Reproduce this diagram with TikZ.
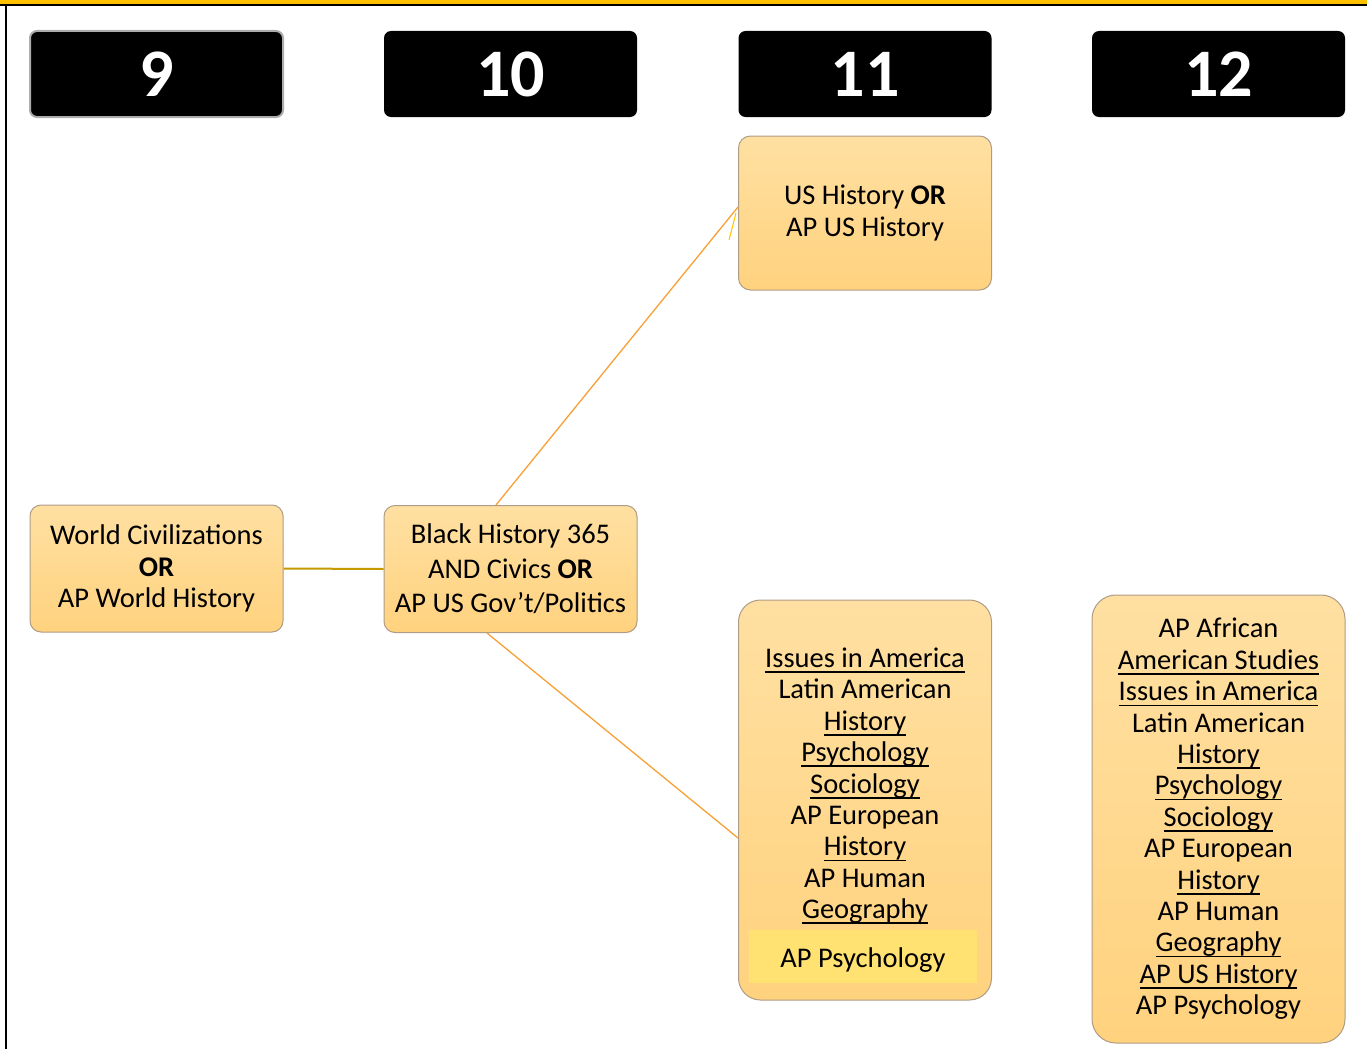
\documentclass[tikz,border=0pt]{standalone}
\usepackage{fontspec}
\setmainfont{Carlito}
\definecolor{BoxTop}{HTML}{FFE0A2}
\definecolor{BoxBot}{HTML}{FFD27E}
\definecolor{BoxLine}{HTML}{AE9C84}
\definecolor{LinkOrange}{HTML}{F7A035}
\definecolor{LinkGold}{HTML}{C49A00}
\definecolor{FrameYellow}{HTML}{FFC000}
\definecolor{HiYellow}{HTML}{FFE272}
\newcommand{\ulx}[1]{\setbox0\hbox{#1}\rlap{\rule[-5.5pt]{\wd0}{1.7pt}}\box0}
\begin{document}
\begin{tikzpicture}[x=1pt,y=-1pt,
  hdr/.style={fill=black, rounded corners=7pt, minimum width=253pt, minimum height=86pt, inner sep=0pt, text=white, font=\fontsize{68}{72}\selectfont\bfseries},
  crs/.style={draw=BoxLine, line width=1pt, top color=BoxTop, bottom color=BoxBot, minimum width=253pt, inner sep=0pt, align=center, font=\fontsize{28.5}{31.4}\selectfont},
  txt/.style={align=center, font=\fontsize{28.5}{31.4}\selectfont, inner sep=0pt},
  link/.style={draw=LinkOrange, line width=1.3pt},
  goldlink/.style={draw=LinkGold, line width=2pt}]
\useasboundingbox (0,0) rectangle (1367,1049);
% frame
\fill[FrameYellow] (0,0) rectangle (1367,3.6);
\draw[black, line width=2pt] (0,4.6) -- (1367,4.6);
\draw[black, line width=2pt] (6,4.6) -- (6,1049);
% headers
\node[hdr, draw=gray!65, line width=2pt] (h9) at (156.5,74) {9};
\node[hdr] (h10) at (510.5,74) {10};
\node[hdr] (h11) at (865,74) {11};
\node[hdr] (h12) at (1218.5,74) {12};
% course boxes
\node[crs, rounded corners=11pt, minimum height=127pt] (wc) at (156.5,568.5)
  {World Civilizations\\\textbf{OR}\\AP World History};
\node[crs, rounded corners=11pt, minimum height=127pt, font=\fontsize{28.5}{34.5}\selectfont] (bh) at (510.5,569)
  {Black History 365\\AND Civics \textbf{OR}\\AP US Gov’t/Politics};
\node[crs, rounded corners=12pt, minimum height=154pt] (us) at (865,213)
  {US History \textbf{OR}\\AP US History};
\node[crs, rounded corners=22pt, minimum height=400pt] (i11) at (865,800) {};
\node[fill=HiYellow, minimum width=228pt, minimum height=53pt, inner sep=0pt] (hi) at (863,956.5) {};
\node[txt] (t11) at (865,786) {\ulx{Issues in America}\\Latin American\\\ulx{History}\\\ulx{Psychology}\\\ulx{Sociology}\\AP European\\\ulx{History}\\AP Human\\\ulx{Geography}};
\node[txt] (p11) at (863,960) {AP Psychology};
\node[crs, rounded corners=24pt, minimum height=448pt] (i12) at (1218.5,819)
  {AP African\\\ulx{American Studies}\\\ulx{Issues in America}\\Latin American\\\ulx{History}\\\ulx{Psychology}\\\ulx{Sociology}\\AP European\\\ulx{History}\\AP Human\\\ulx{Geography}\\\ulx{AP US History}\\AP Psychology};
% connectors
\draw[goldlink] (wc.east) -- (bh.west);
\draw[link] ([xshift=-14.5pt]bh.north) -- ([yshift=6pt]us.west);
\draw[draw=FrameYellow, line width=1pt] ([xshift=-2pt,yshift=0pt]us.west) -- ([xshift=-9pt,yshift=-27pt]us.west);
\draw[link] ([xshift=-23.5pt]bh.south) -- ([yshift=-38pt]i11.west);
\end{tikzpicture}
\end{document}
